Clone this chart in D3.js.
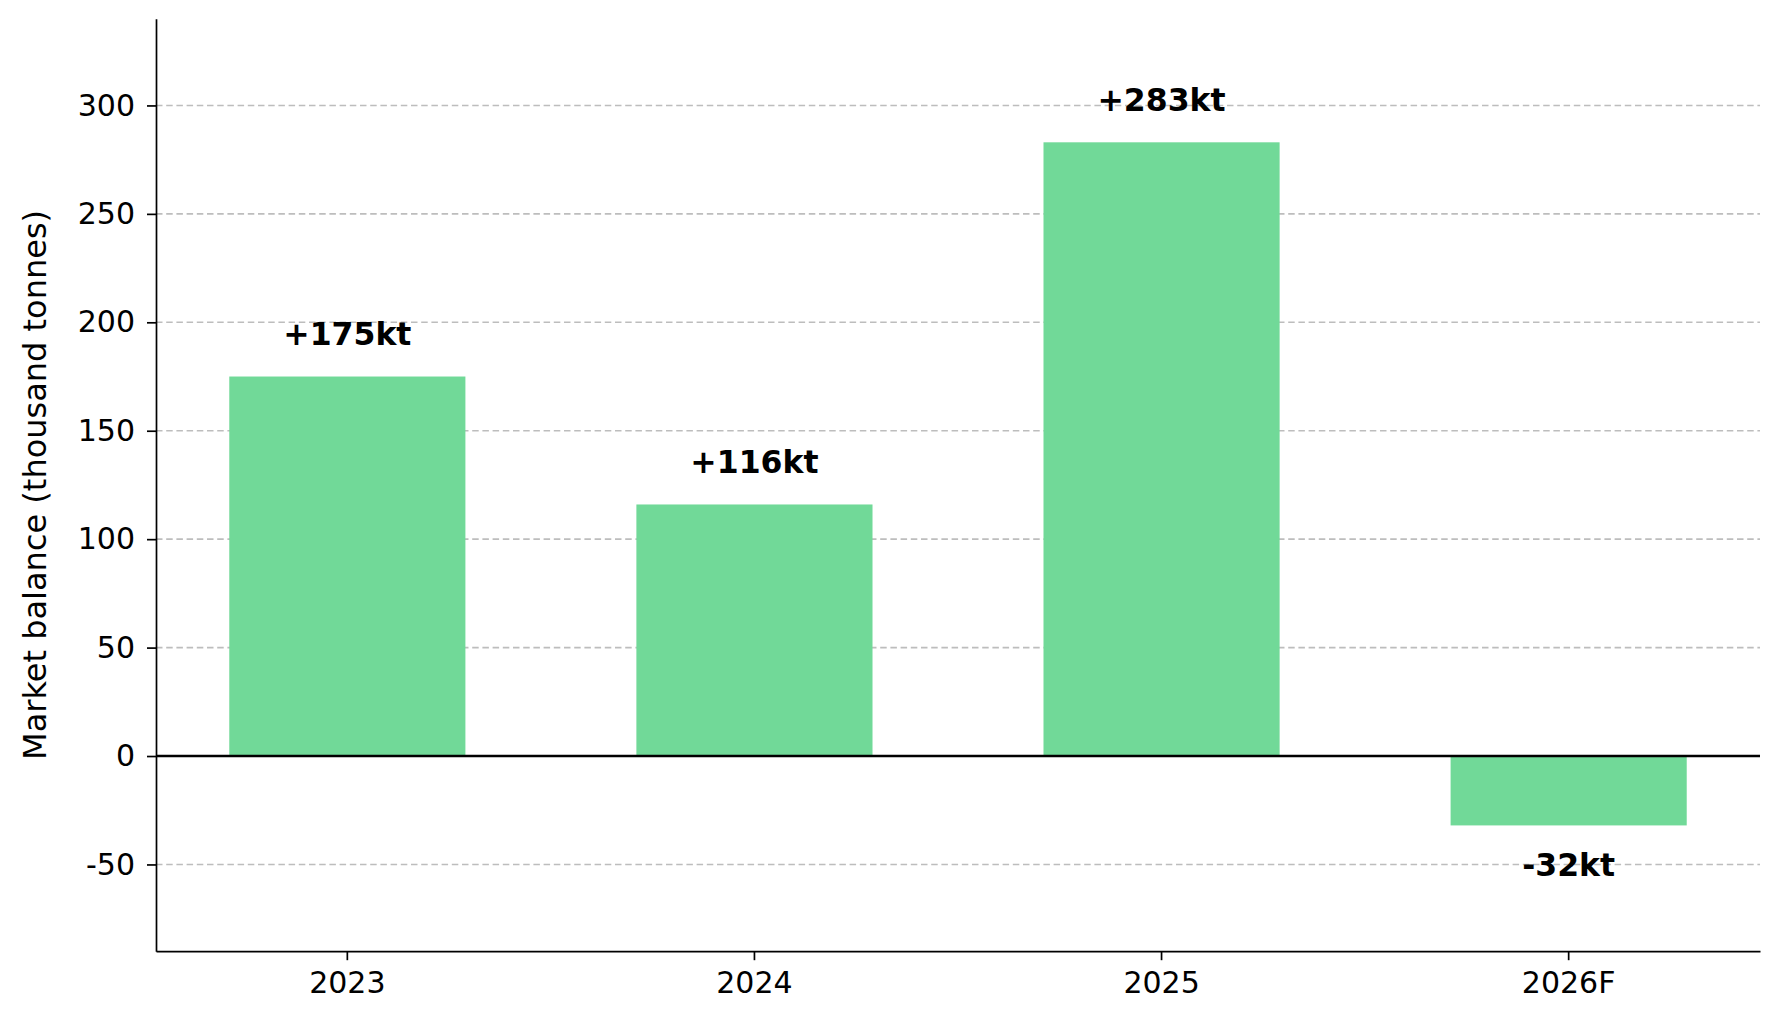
<!DOCTYPE html>
<html lang="en">
<head>
	<meta charset="utf-8">
	<title>Market balance</title>
	<script src="https://cdn.jsdelivr.net/npm/d3@7"></script>
	<style type="text/css">
		body {
			margin: 0;
			background: white;
		}

		.axis path,
		.axis line {
			fill: none;
			stroke: black;
			stroke-width: 1.7px;
		}

		.axis text {
			font-family: "DejaVu Sans", sans-serif;
			font-size: 30px;
			fill: black;
		}

		.grid line {
			stroke: #bdbdbd;
			stroke-width: 1.6px;
			stroke-dasharray: 6.5, 3.7;
		}

		.bar-label {
			font-family: "DejaVu Sans", sans-serif;
			font-size: 31.5px;
			font-weight: bold;
		}
	</style>
</head>
<body>
	<script type="text/javascript">

		// Data
		var categories = ["2023", "2024", "2025", "2026F"];
		var balances = [175, 116, 283, -32];
		var yTicks = [-50, 0, 50, 100, 150, 200, 250, 300];
		var yDomain = [-90, 340];

		// Canvas size and plot area
		var outer_width = 1780;
		var outer_height = 1019;
		var margin = {top: 18.7, right: 20, bottom: 67.8, left: 156};
		var svg_width = outer_width - margin.left - margin.right;
		var svg_height = outer_height - margin.top - margin.bottom;

		// Create SVG element
		var svg = d3.select("body")
					.append("svg")
					.attr("width", outer_width)
					.attr("height", outer_height)
					.append("g")
					.attr("transform", "translate(" + margin.left + "," + margin.top + ")");

		// Scales
		var xScale = d3.scaleBand()
						.domain(categories)
						.range([0, svg_width])
						.paddingInner(0.42)
						.paddingOuter(0.18);

		var yScale = d3.scaleLinear()
						.domain(yDomain)
						.range([svg_height, 0]);

		// Dashed horizontal grid lines (behind the bars)
		svg.append("g")
			.attr("class", "grid")
			.selectAll("line")
			.data(yTicks.filter(function(d) { return d !== 0; }))
			.enter()
			.append("line")
			.attr("x1", 0)
			.attr("x2", svg_width)
			.attr("y1", function(d) { return yScale(d); })
			.attr("y2", function(d) { return yScale(d); });

		// Bars
		svg.selectAll("rect")
			.data(balances)
			.enter()
			.append("rect")
			.attr("x", function(d, i) { return xScale(categories[i]); })
			.attr("y", function(d) { return yScale(Math.max(0, d)); })
			.attr("width", xScale.bandwidth())
			.attr("height", function(d) { return Math.abs(yScale(d) - yScale(0)); })
			.style("fill", "#71d998");

		// Zero line
		svg.append("line")
			.attr("x1", 0)
			.attr("x2", svg_width)
			.attr("y1", yScale(0))
			.attr("y2", yScale(0))
			.style("stroke", "black")
			.style("stroke-width", "2.6px");

		// Value labels above / below each bar
		svg.selectAll(".bar-label")
			.data(balances)
			.enter()
			.append("text")
			.attr("class", "bar-label")
			.attr("text-anchor", "middle")
			.attr("x", function(d, i) { return xScale(categories[i]) + xScale.bandwidth() / 2; })
			.attr("y", function(d) {
				return d >= 0 ? yScale(d) - 31.3 : yScale(d) + 50.5;
			})
			.text(function(d) { return (d > 0 ? "+" : "") + d + "kt"; });

		// X axis (tickSize first, it also resets the outer size)
		var xAxis = d3.axisBottom(xScale)
						.tickSize(9)
						.tickSizeOuter(0)
						.tickPadding(12);

		svg.append("g")
			.attr("class", "x axis")
			.attr("transform", "translate(0," + svg_height + ")")
			.call(xAxis);

		// Y axis
		var yAxis = d3.axisLeft(yScale)
						.tickValues(yTicks)
						.tickFormat(function(d) { return String(d); })
						.tickSize(9)
						.tickSizeOuter(0)
						.tickPadding(12);

		svg.append("g")
			.attr("class", "y axis")
			.call(yAxis);

		// Y axis title
		svg.append("text")
			.attr("transform", "translate(" + (46 - margin.left) + "," + (svg_height / 2) + ") rotate(-90)")
			.attr("text-anchor", "middle")
			.style("font-family", "'DejaVu Sans', sans-serif")
			.style("font-size", "32px")
			.text("Market balance (thousand tonnes)");

	</script>
</body>
</html>
